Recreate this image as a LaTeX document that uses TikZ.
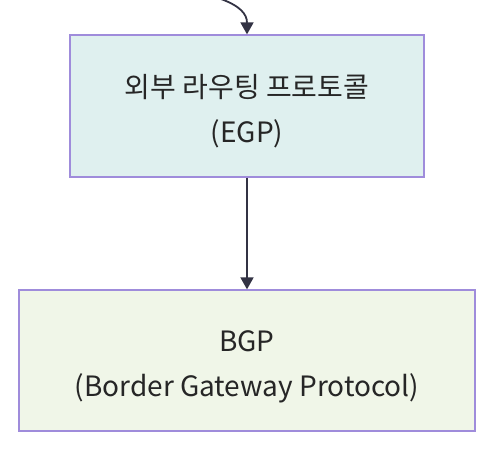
\documentclass[tikz,border=0pt]{standalone}
\usepackage{fontspec}
\setmainfont{Noto Sans CJK KR}
\usepackage{tikz}
\usetikzlibrary{arrows.meta}

\definecolor{edgecol}{HTML}{333344}
\definecolor{boxline}{HTML}{9F8CDB}
\definecolor{egpfill}{HTML}{DFF0EF}
\definecolor{bgpfill}{HTML}{F0F6E8}
\definecolor{txtcol}{HTML}{262626}

\newcommand{\toppad}{\rule{0pt}{33pt}}

\tikzset{
  proto/.style={draw=boxline,line width=1.3pt,rectangle,align=center,
    text=txtcol,font=\fontsize{28pt}{45pt}\selectfont,inner sep=0pt},
}

\begin{document}
\begin{tikzpicture}[x=1pt,y=-1pt,>={Triangle[length=12pt,width=13pt]}]
   \useasboundingbox (0,0) rectangle (502,460);
   \node[proto,fill=egpfill,minimum width=354pt,minimum height=142pt] (egp) at (247,106) {\toppad 외부 라우팅 프로토콜\\(EGP)};
   \node[proto,fill=bgpfill,minimum width=456pt,minimum height=141pt] (bgp) at (247,360.5) {\toppad BGP\\(Border Gateway Protocol)};
   \coordinate (in) at (221,-1);

   \draw[->,edgecol,line width=1.8pt] (in) .. controls (240,6) and (247,14) .. (egp.north);
   \draw[->,edgecol,line width=1.8pt] (egp) -- (bgp);
\end{tikzpicture}
\end{document}
